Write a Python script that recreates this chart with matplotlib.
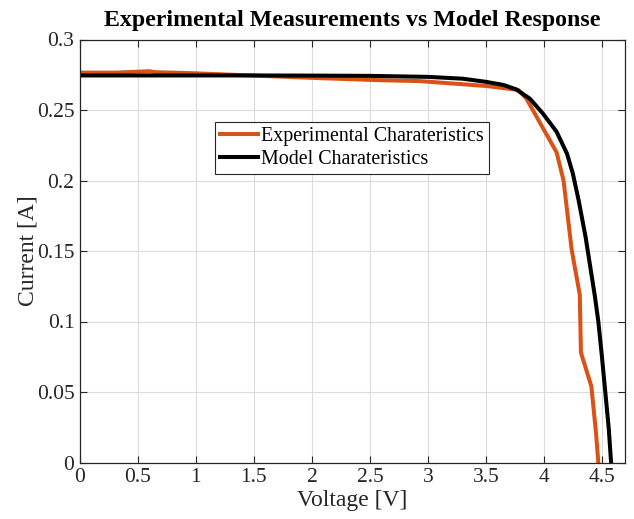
import matplotlib
matplotlib.use("Agg")
import matplotlib.pyplot as plt
from matplotlib.ticker import FuncFormatter

plt.rcParams['font.family'] = ['Liberation Serif', 'DejaVu Serif']

# Experimental characteristic
exp_v = [0.0, 0.3, 0.6, 0.65, 0.8, 1.0, 1.47, 2.0, 2.56, 2.93, 3.51, 3.78, 3.85,
         4.11, 4.17, 4.24, 4.31, 4.32, 4.41, 4.45, 4.47]
exp_i = [0.2765, 0.2765, 0.2775, 0.2768, 0.2765, 0.276, 0.2745, 0.2728, 0.2712,
         0.2705, 0.267, 0.2642, 0.258, 0.220, 0.200, 0.151, 0.119, 0.078, 0.054,
         0.021, 0.0]

# Model characteristic
mod_v = [0.0, 0.5, 1.0, 1.5, 2.0, 2.5, 3.0, 3.3, 3.5, 3.65, 3.76, 3.88, 3.99,
         4.11, 4.2, 4.25, 4.3, 4.36, 4.4, 4.44, 4.47, 4.5, 4.53, 4.56, 4.58]
mod_i = [0.2745, 0.2745, 0.2745, 0.2745, 0.2744, 0.2742, 0.2735, 0.2722, 0.270,
         0.2678, 0.2647, 0.258, 0.2477, 0.2346, 0.219, 0.205, 0.186, 0.160, 0.139,
         0.118, 0.100, 0.076, 0.050, 0.024, 0.0]

x_ticks = [0, 0.5, 1, 1.5, 2, 2.5, 3, 3.5, 4, 4.5]
y_ticks = [0, 0.05, 0.1, 0.15, 0.2, 0.25, 0.3]

fig = plt.figure(figsize=(6.34, 5.19), dpi=100)
ax = fig.add_axes([80/634, 1 - 462.5/519, 545/634, 423/519])

ax.plot(exp_v, exp_i, color='#D95319', lw=2.9, label='Experimental Charateristics')
ax.plot(mod_v, mod_i, color='black', lw=2.9, label='Model Charateristics')

ax.set_xlim(0, 4.7)
ax.set_ylim(0, 0.3)
ax.set_xticks(x_ticks)
ax.set_yticks(y_ticks)
fmt = FuncFormatter(lambda v, p: ('%g' % v))
ax.xaxis.set_major_formatter(fmt)
ax.yaxis.set_major_formatter(fmt)
ax.grid(True, color='#DCDCDC', lw=0.8)
ax.set_axisbelow(True)
ax.tick_params(direction='in', top=True, right=True, labelsize=15.5,
               colors='#262626', length=5, width=0.8, pad=4)
for s in ax.spines.values():
    s.set_color('#262626')
    s.set_linewidth(0.9)

ax.set_xlabel('Voltage [V]', fontsize=17, color='#262626', labelpad=2)
ax.set_ylabel('Current [A]', fontsize=17, color='#262626')
ax.yaxis.set_label_coords(-0.076, 0.5)
ax.set_title('Experimental Measurements vs Model Response', fontsize=17.2,
             fontweight='bold', pad=10)

leg = ax.legend(loc='upper left', bbox_to_anchor=(0.248, 0.806), borderaxespad=0,
                fontsize=14.4, handlelength=1.9, handletextpad=0.15, borderpad=0.25,
                labelspacing=0.2, fancybox=False, framealpha=1, edgecolor='#262626')
leg.get_frame().set_linewidth(0.8)

fig.savefig('out.png', dpi=100)
